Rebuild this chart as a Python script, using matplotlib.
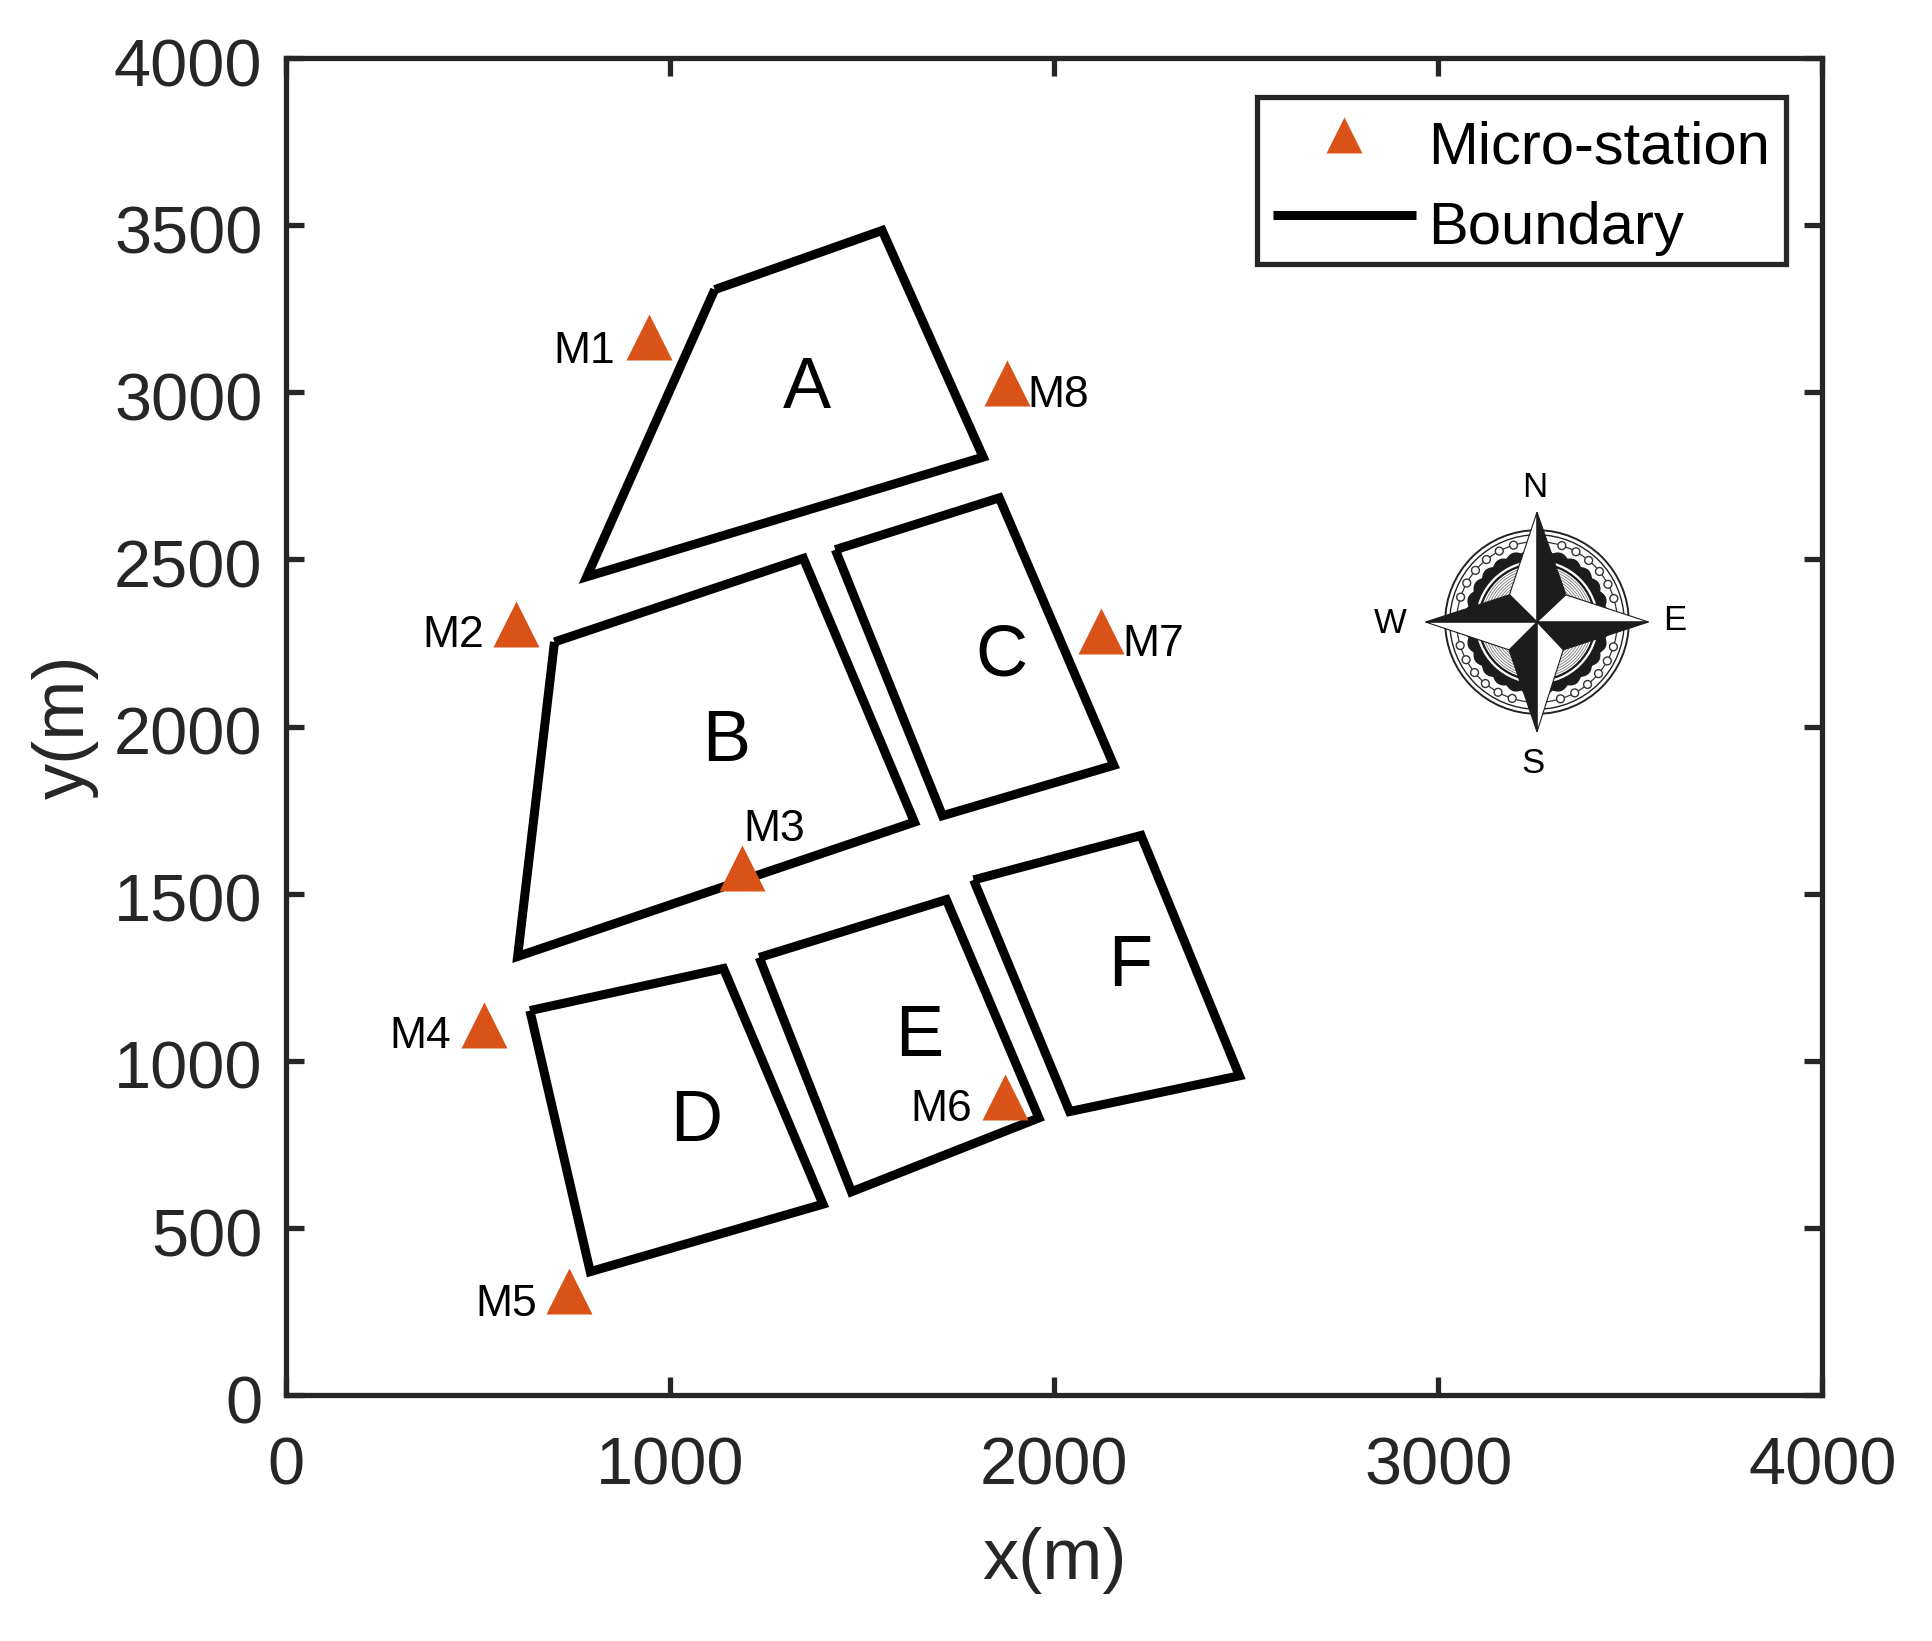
import numpy as np
import matplotlib
matplotlib.use('Agg')
import matplotlib.pyplot as plt
import matplotlib.patches as patches
from matplotlib.transforms import ScaledTranslation

plt.rcParams['font.family'] = ['Liberation Sans', 'DejaVu Sans']

# Block boundaries (m)
block_names = ['A', 'B', 'C', 'D', 'E', 'F']
block_x = [
    [1116, 1552, 1815, 783],
    [699, 1347, 1636, 603],
    [1430, 1857, 2155, 1709],
    [635, 1139, 1398, 792],
    [1232, 1719, 1960, 1472],
    [1790, 2226, 2482, 2040],
]
block_y = [
    [3307, 3484, 2806, 2448],
    [2253, 2503, 1714, 1312],
    [2529, 2684, 1884, 1733],
    [1150, 1276, 571, 369],
    [1309, 1482, 829, 608],
    [1541, 1674, 955, 848],
]
block_label_x = [1356, 1146, 1863, 1068, 1649, 2197]
block_label_y = [3007, 1953, 2209, 814, 1071, 1280]

# Micro-stations
station_names = ['M1', 'M2', 'M3', 'M4', 'M5', 'M6', 'M7', 'M8']
station_x = [946, 600, 1187, 516, 738, 1873, 2123, 1876]
station_y = [3166, 2308, 1578, 1108, 310, 893, 2285, 3027]
station_label_x = [776, 436, 1270, 350, 574, 1706, 2258, 2011]
station_label_y = [3123, 2272, 1692, 1072, 272, 855, 2245, 2990]

ticks = [0, 1000, 2000, 3000, 4000]
yticks = [0, 500, 1000, 1500, 2000, 2500, 3000, 3500, 4000]

dark = '#262626'
orange = '#D95319'

fig = plt.figure(figsize=(19.33, 16.41), dpi=100)
ax = fig.add_axes([286 / 1933, 1 - 1395 / 1641, 1536.5 / 1933, 1337 / 1641])

for i in range(len(block_names)):
    ax.plot(block_x[i] + block_x[i][:1], block_y[i] + block_y[i][:1], color='black', lw=6.5,
            solid_joinstyle='miter', solid_capstyle='butt', label='Boundary' if i == 0 else None)
    ax.text(block_label_x[i], block_label_y[i], block_names[i], fontsize=52, color='black',
            ha='center', va='center')

ax.plot(station_x, station_y, linestyle='none', marker='^', ms=33, color=orange, mec='none',
        label='Micro-station', zorder=3)
for i in range(len(station_names)):
    ax.text(station_label_x[i], station_label_y[i], station_names[i], fontsize=32, color='black',
            ha='center', va='center')

ax.set_xlim(0, 4000)
ax.set_ylim(0, 4000)
ax.set_xticks(ticks)
ax.set_yticks(yticks)
ax.tick_params(direction='in', top=True, right=True, length=13, width=3.8, labelsize=48,
               colors=dark)
ax.tick_params(axis='x', pad=30)
ax.tick_params(axis='y', pad=17)
for spine in ax.spines.values():
    spine.set_linewidth(3.8)
    spine.set_color(dark)
ax.set_xlabel('x(m)', fontsize=52, color=dark, labelpad=20.5)
ax.set_ylabel('y(m)', fontsize=52, color=dark, labelpad=11)

# y tick labels sit a touch below their ticks in the original
nudge = ScaledTranslation(0, -3 / 72, fig.dpi_scale_trans)
for label in ax.get_yticklabels():
    label.set_transform(label.get_transform() + nudge)

# Legend, station first
handles, labels = ax.get_legend_handles_labels()
leg = ax.legend(handles[::-1], labels[::-1], loc='upper right', bbox_to_anchor=(1785.5 / 1933, 1 - 97 / 1641),
                bbox_transform=fig.transFigure, borderaxespad=0, fontsize=43, markerscale=0.78,
                handlelength=2.4, handletextpad=0.2, labelspacing=0.43, borderpad=0.26,
                fancybox=False, framealpha=1, edgecolor=dark, labelcolor='black')
leg.get_frame().set_linewidth(3.8)
for t in leg.get_texts():
    t.set_position((0, -8))

# Compass rose, drawn in its own little axes (units are arbitrary)
comp = fig.add_axes([(1537 - 141) / 1933, 1 - (622 + 141) / 1641, 282 / 1933, 282 / 1641])
comp.set_xlim(-430, 430)
comp.set_ylim(-430, 430)
comp.axis('off')

comp.add_patch(patches.Circle((0, 0), 280, fc='white', ec='#222222', lw=1.4))
comp.add_patch(patches.Circle((0, 0), 266, fc='white', ec='#222222', lw=1.0))
comp.add_patch(patches.Circle((0, 0), 245, fc='none', ec='#333333', lw=0.9))
for q in [0, 90, 180, 270]:
    for a in [17, 28, 39, 50, 61, 72]:
        t = np.radians(q + a)
        comp.add_patch(patches.Circle((245 * np.cos(t), 245 * np.sin(t)), 12, fc='white', ec='#333333', lw=1.0))

theta = np.linspace(0, 2 * np.pi, 721)
blob_r = 212 + 9 * np.abs(np.sin(theta * 14))
comp.fill(blob_r * np.cos(theta), blob_r * np.sin(theta), color='#1c1c1c')
comp.add_patch(patches.Circle((0, 0), 188, fc='white', ec='none'))
comp.add_patch(patches.Circle((0, 0), 181, fc='#1c1c1c', ec='none'))
comp.add_patch(patches.Circle((0, 0), 174, fc='white', ec='none'))
for r in range(120, 170, 7):
    comp.add_patch(patches.Circle((0, 0), r, fc='none', ec='#777777', lw=0.6))

arms = [
    ((0, 335), (-84, 83), (88, 83)),
    ((340, 0), (88, 83), (80, -85)),
    ((0, -335), (80, -85), (-85, -85)),
    ((-340, 0), (-85, -85), (-84, 83)),
]
for tip, light, heavy in arms:
    comp.add_patch(patches.Polygon([(0, 0), tip, light], closed=True, fc='white', ec='#1c1c1c', lw=0.8, zorder=4))
    comp.add_patch(patches.Polygon([(0, 0), tip, heavy], closed=True, fc='#1c1c1c', ec='#1c1c1c', lw=0.8, zorder=4))

comp.text(-8, 409, 'N', fontsize=25, ha='center', va='center', color='black', clip_on=False)
comp.text(-11, -433, 'S', fontsize=25, ha='center', va='center', color='black', clip_on=False)
comp.text(-447, -4, 'W', fontsize=25, ha='center', va='center', color='black', clip_on=False)
comp.text(421, 4, 'E', fontsize=25, ha='center', va='center', color='black', clip_on=False)

fig.savefig('out.png', dpi=100, facecolor='white')
